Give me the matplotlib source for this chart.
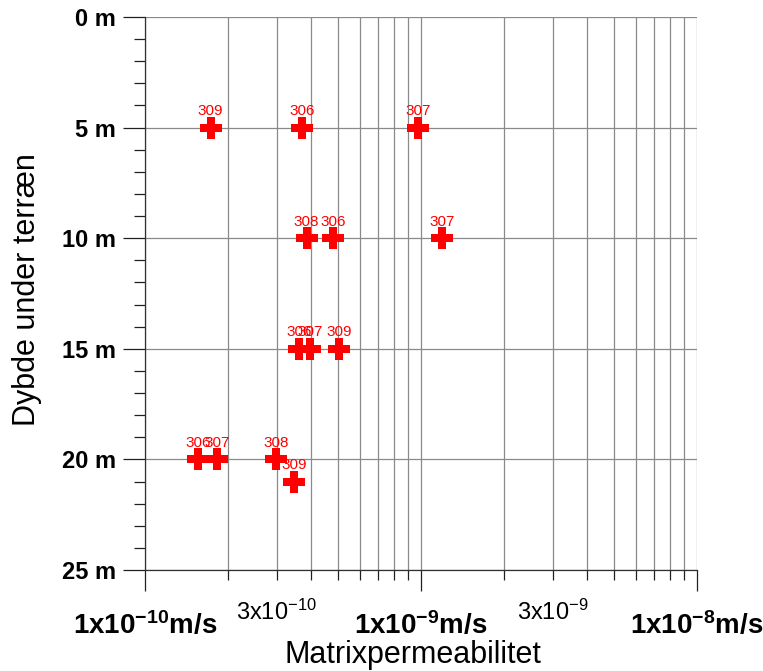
import numpy as np
import matplotlib
matplotlib.use("Agg")
import matplotlib.pyplot as plt

plt.rcParams['font.family'] = ['Liberation Sans', 'DejaVu Sans']
plt.rcParams['mathtext.fontset'] = 'custom'
plt.rcParams['mathtext.rm'] = 'Liberation Sans'
plt.rcParams['mathtext.bf'] = 'Liberation Sans:bold'
plt.rcParams['mathtext.it'] = 'Liberation Sans:italic'

# matrix permeability (m/s) per borehole and sample depth
depth = [5, 5, 5, 10, 10, 10, 15, 15, 15, 20, 20, 20, 21]
boring = ['309', '306', '307', '308', '306', '307', '306', '307', '309',
          '306', '307', '308', '309']
k = [1.73e-10, 3.70e-10, 9.78e-10, 3.85e-10, 4.79e-10, 1.19e-9,
     3.61e-10, 3.95e-10, 5.05e-10, 1.56e-10, 1.83e-10, 2.98e-10, 3.47e-10]

y_ticks = [0, 5, 10, 15, 20, 25]
y_ticklabels = ['0 m', '5 m', '10 m', '15 m', '20 m', '25 m']
x_major = [1e-10, 1e-9, 1e-8]
x_major_labels = [r'$\mathbf{1x10^{-10}m/s}$', r'$\mathbf{1x10^{-9}m/s}$',
                  r'$\mathbf{1x10^{-8}m/s}$']
x_minor = [2e-10, 3e-10, 4e-10, 5e-10, 6e-10, 7e-10, 8e-10, 9e-10,
           2e-9, 3e-9, 4e-9, 5e-9, 6e-9, 7e-9, 8e-9, 9e-9]
x_minor_labels = ['', r'$\mathrm{3x10^{-10}}$', '', '', '', '', '', '',
                  '', r'$\mathrm{3x10^{-9}}$', '', '', '', '', '', '']

red = '#ff0000'
grid_col = '#8a8a8a'

fig = plt.figure(figsize=(7.63, 6.71), dpi=100)
ax = fig.add_axes([145 / 763, 1 - 570 / 671, 552 / 763, 553 / 671])

ax.set_xscale('log')
ax.set_xlim(1e-10, 1e-8)
ax.set_ylim(25, 0)

ax.set_xticks(x_major)
ax.set_xticklabels(x_major_labels, fontsize=20)
ax.set_xticks(x_minor, minor=True)
ax.set_xticklabels(x_minor_labels, minor=True, fontsize=17)

ax.set_yticks(y_ticks)
ax.set_yticklabels(y_ticklabels, fontsize=17, fontweight='bold')
ax.set_yticks(np.arange(0, 26, 1), minor=True)

ax.tick_params(axis='x', which='major', length=15, width=0.9, color='#202020', pad=14.5)
ax.tick_params(axis='x', which='minor', length=7.5, width=0.9, color='#202020', pad=14)
ax.tick_params(axis='y', which='major', length=16, width=0.9, color='#202020', pad=5)
ax.tick_params(axis='y', which='minor', length=8, width=0.9, color='#202020')

ax.grid(True, axis='x', which='both', color=grid_col, lw=0.9)
ax.grid(True, axis='y', which='major', color=grid_col, lw=0.9)
ax.set_axisbelow(True)

for s in ('top', 'right'):
    ax.spines[s].set_visible(False)
for s in ('left', 'bottom'):
    ax.spines[s].set_color('#303030')
    ax.spines[s].set_linewidth(0.9)

ax.plot(k, depth, linestyle='none', marker='P', markersize=16.5,
        color=red, markeredgewidth=0, clip_on=False, zorder=3)
for xi, yi, lab in zip(k, depth, boring):
    ax.annotate(lab, (xi, yi), xytext=(0, 9), textcoords='offset points',
                ha='center', va='baseline', fontsize=11, color=red, zorder=4)

ax.set_xlabel('Matrixpermeabilitet', fontsize=22, va='baseline')
ax.xaxis.set_label_coords((413 - 145) / 552, (570 - 663) / 553)
ax.set_ylabel('Dybde under terræn', fontsize=22, va='baseline')
ax.yaxis.set_label_coords((35 - 145) / 552, (570 - 290) / 553)

fig.savefig('out.png', dpi=100)
